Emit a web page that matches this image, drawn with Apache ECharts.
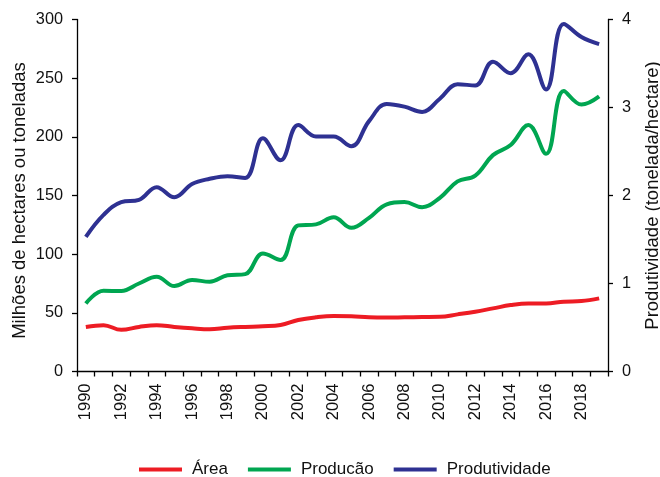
<!DOCTYPE html>
<html>
<head>
<meta charset="utf-8">
<script src="https://cdn.jsdelivr.net/npm/echarts@6/dist/echarts.min.js"></script>
<style>html,body{margin:0;padding:0;background:#fff}#c{width:660px;height:477px}</style>
</head>
<body>
<div id="c"></div>
<script>
const years = ['1990','1991','1992','1993','1994','1995','1996','1997','1998','1999','2000','2001','2002','2003','2004','2005','2006','2007','2008','2009','2010','2011','2012','2013','2014','2015','2016','2017','2018','2019'];
const area = [38,39.5,35.5,38,39.5,38,36.8,36,37.3,38,38.5,39.6,43.9,46.2,47.3,47,46.2,46,46.2,46.4,46.6,48.7,51,53.8,56.6,58,58,59.5,60,62.3];
const producao = [58,68.8,68.6,75,80.8,72.8,78,76.5,82,83,100.5,95,124.5,125.4,131.5,122.5,131,142.5,144.4,140,148,162,167,184.4,193,210,185.5,239,227.5,234.5];
const produtividade = [1.53,1.78,1.925,1.95,2.095,1.98,2.13,2.19,2.22,2.2,2.65,2.4,2.8,2.67,2.67,2.56,2.845,3.04,3.01,2.95,3.1,3.265,3.25,3.52,3.39,3.606,3.205,3.95,3.8,3.72];
const leftTicks = {min:0, max:300, interval:50};
const rightTicks = {min:0, max:4, interval:1};

const FONT = 'Arial, "Liberation Sans", sans-serif';
const TXT = '#111';
const chart = echarts.init(document.getElementById('c'), null, {renderer:'canvas'});
const axisLine = {show:true, lineStyle:{color:'#000', width:1.3}};
const axisTick = {show:true, inside:false, length:5, lineStyle:{color:'#000', width:1.3}};
chart.setOption({
  animation:false,
  backgroundColor:'#fff',
  textStyle:{fontFamily:FONT},
  grid:{left:77, right:52, top:19.5, bottom:105.5, containLabel:false, outerBoundsMode:'none'},
  legend:{
    top:456, left:134,
    itemWidth:43, itemHeight:4, itemGap:20,
    icon:'rect',
    textStyle:{fontFamily:FONT, fontSize:17, color:TXT, padding:[0,0,0,5]},
    data:['Área','Producão','Produtividade']
  },
  xAxis:{
    type:'category', data:years, boundaryGap:true,
    axisLine:axisLine,
    axisTick:Object.assign({interval:0, alignWithLabel:false}, axisTick),
    axisLabel:{interval:1, rotate:90, margin:12, fontSize:16.5, color:TXT, fontFamily:FONT},
    splitLine:{show:false}
  },
  yAxis:[{
    type:'value', min:leftTicks.min, max:leftTicks.max, interval:leftTicks.interval,
    name:'Milhões de hectares ou toneladas', nameLocation:'middle', nameGap:48, nameRotate:90,
    nameMoveOverlap:false,
    nameTextStyle:{fontSize:18.5, color:TXT, fontFamily:FONT, padding:[0,10,0,0]},
    axisLine:axisLine, axisTick:axisTick,
    axisLabel:{margin:14, fontSize:16.3, color:TXT, fontFamily:FONT},
    splitLine:{show:false}
  },{
    type:'value', position:'right', min:rightTicks.min, max:rightTicks.max, interval:rightTicks.interval,
    name:'Produtividade (tonelada/hectare)', nameLocation:'middle', nameGap:35, nameRotate:90,
    nameMoveOverlap:false,
    nameTextStyle:{fontSize:18.5, color:TXT, fontFamily:FONT},
    axisLine:axisLine, axisTick:axisTick,
    axisLabel:{margin:14, fontSize:16.3, color:TXT, fontFamily:FONT},
    splitLine:{show:false}
  }],
  series:[
    {name:'Área', type:'line', data:area, yAxisIndex:0, smooth:0.4, showSymbol:false, symbol:'none',
     lineStyle:{width:4, color:'#ed1c24'}, itemStyle:{color:'#ed1c24'}},
    {name:'Producão', type:'line', data:producao, yAxisIndex:0, smooth:0.4, showSymbol:false, symbol:'none',
     lineStyle:{width:4, color:'#00a651'}, itemStyle:{color:'#00a651'}},
    {name:'Produtividade', type:'line', data:produtividade, yAxisIndex:1, smooth:0.4, showSymbol:false, symbol:'none',
     lineStyle:{width:4, color:'#2e3192'}, itemStyle:{color:'#2e3192'}}
  ]
});
</script>
</body>
</html>
